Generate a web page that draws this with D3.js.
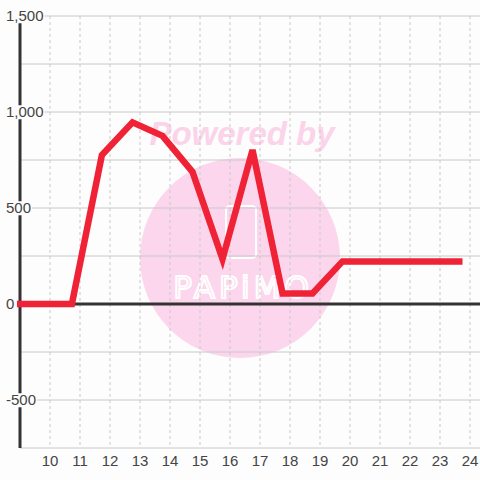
<!DOCTYPE html>
<html>
<head>
<meta charset="utf-8">
<script src="https://cdn.jsdelivr.net/npm/d3@7"></script>
<style>
	html, body { margin: 0; padding: 0; background: #fdfdfd; }
	svg { display: block; font-family: "Liberation Sans", Arial, sans-serif; }
</style>
</head>
<body>
<div id="chart"></div>
<script>
// hour of day, value
var hours = [8.9, 10.73, 11.73, 12.75, 13.75, 14.75, 15.75, 16.75, 17.75, 18.75, 19.75, 20.75, 21.75, 22.75, 23.75];
var values = [0, 0, 776, 946, 876, 688, 234, 802, 55, 55, 222, 222, 222, 222, 222];
var xTicks = [10, 11, 12, 13, 14, 15, 16, 17, 18, 19, 20, 21, 22, 23, 24];
var yTicks = [-500, 0, 500, 1000, 1500];
var yGrid = [-750, -500, -250, 0, 250, 500, 750, 1000, 1250, 1500];

var width = 480,
	height = 480,
	padLeft = 20,
	padTop = 16,
	padBottom = 448;

var x = d3.scaleLinear().domain([9, 24.333]).range([padLeft, width]);
var y = d3.scaleLinear().domain([-750, 1500]).range([padBottom, padTop]);

var svg = d3.select("#chart").append("svg")
	.attr("width", width)
	.attr("height", height);

// watermark
var wm = svg.append("g");
wm.append("circle")
	.attr("cx", 240).attr("cy", 258).attr("r", 100)
	.attr("fill", "#fcd6ec");
wm.append("text")
	.attr("x", 242).attr("y", 145)
	.attr("text-anchor", "middle")
	.attr("font-size", 33)
	.attr("font-weight", "bold")
	.attr("font-style", "italic")
	.attr("fill", "#fbd4ea")
	.text("Powered by");
wm.append("rect")
	.attr("x", 226).attr("y", 206).attr("width", 30).attr("height", 52).attr("rx", 4)
	.attr("fill", "none").attr("stroke", "#fff").attr("stroke-width", 2);
wm.append("text")
	.attr("x", 243).attr("y", 298)
	.attr("text-anchor", "middle")
	.attr("font-size", 31)
	.attr("font-family", "DejaVu Sans")
	.attr("letter-spacing", 4)
	.attr("fill", "none")
	.attr("stroke", "#fff")
	.attr("stroke-width", 2)
	.text("PAPiMO");

// horizontal grid
svg.append("g")
	.selectAll("line")
	.data(yGrid)
	.join("line")
	.attr("x1", padLeft).attr("x2", width)
	.attr("y1", function (d) { return y(d); })
	.attr("y2", function (d) { return y(d); })
	.attr("stroke", "#c8c8c8")
	.attr("stroke-width", 1);

// vertical dashed grid
svg.append("g")
	.selectAll("line")
	.data(xTicks)
	.join("line")
	.attr("x1", function (d) { return x(d); })
	.attr("x2", function (d) { return x(d); })
	.attr("y1", padTop).attr("y2", padBottom)
	.attr("stroke", "#c8c8c8")
	.attr("stroke-dasharray", "3,3")
	.attr("stroke-width", 1);

// axes
svg.append("line")
	.attr("x1", padLeft).attr("x2", padLeft)
	.attr("y1", padTop).attr("y2", padBottom)
	.attr("stroke", "#333").attr("stroke-width", 3);
svg.append("line")
	.attr("x1", padLeft).attr("x2", width)
	.attr("y1", y(0)).attr("y2", y(0))
	.attr("stroke", "#333").attr("stroke-width", 3);

// y labels with background
var fmt = d3.format(",");
var yl = svg.append("g")
	.selectAll("g")
	.data(yTicks)
	.join("g")
	.attr("transform", function (d) { return "translate(6," + y(d) + ")"; });
yl.append("text")
	.attr("text-anchor", "start")
	.attr("dy", "0.35em")
	.attr("font-size", 15)
	.attr("fill", "#444")
	.text(function (d) { return d < 0 ? "-" + fmt(-d) : fmt(d); })
	.each(function () {
		var b = this.getBBox();
		d3.select(this.parentNode).insert("rect", "text")
			.attr("x", b.x - 1).attr("y", b.y + 2)
			.attr("width", b.width + 2).attr("height", b.height - 3)
			.attr("fill", "#fdfdfd");
	});

// x labels
svg.append("g")
	.selectAll("text")
	.data(xTicks)
	.join("text")
	.attr("x", function (d) { return x(d); })
	.attr("y", 466)
	.attr("text-anchor", "middle")
	.attr("font-size", 15)
	.attr("fill", "#444")
	.text(function (d) { return d; });

// line
var line = d3.line()
	.x(function (d, i) { return x(hours[i]); })
	.y(function (d) { return y(d); });

svg.append("path")
	.datum(values)
	.attr("d", line)
	.attr("fill", "none")
	.attr("stroke", "#f02236")
	.attr("stroke-width", 6.5)
	.attr("stroke-linejoin", "miter");
</script>
</body>
</html>
